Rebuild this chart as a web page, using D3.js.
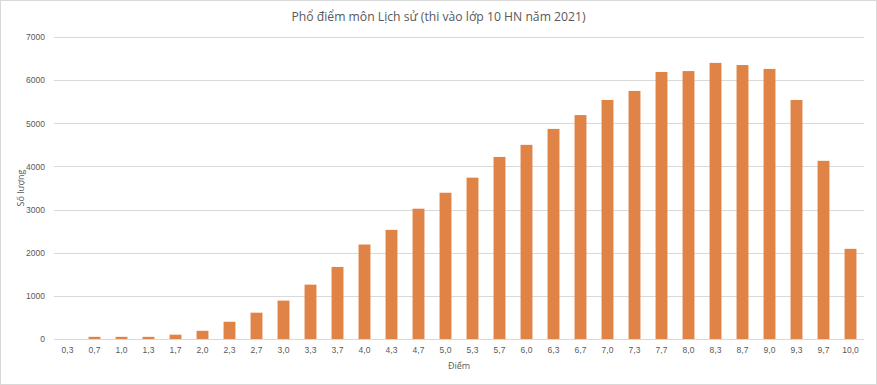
<!DOCTYPE html>
<html>
<head>
<meta charset="utf-8">
<script src="https://cdn.jsdelivr.net/npm/d3@7"></script>
<style>
  body { margin: 0; background: #fff; }
  svg { display: block; font-family: "Open Sans", "Noto Sans", sans-serif; }
  .tick text { fill: #595959; font-size: 8.5px; }
</style>
</head>
<body>
<svg id="chart"></svg>
<script>
// score categories (x axis)
const scores = ['0,3', '0,7', '1,0', '1,3', '1,7', '2,0', '2,3', '2,7', '3,0', '3,3',
  '3,7', '4,0', '4,3', '4,7', '5,0', '5,3', '5,7', '6,0', '6,3', '6,7',
  '7,0', '7,3', '7,7', '8,0', '8,3', '8,7', '9,0', '9,3', '9,7', '10,0'];

// number of students per score
const counts = [0, 50, 50, 50, 100, 190, 400, 610, 890, 1260,
  1670, 2190, 2530, 3020, 3390, 3740, 4220, 4500, 4870, 5190,
  5540, 5750, 6190, 6210, 6400, 6350, 6260, 5540, 4130, 2090];

const yTicks = [0, 1000, 2000, 3000, 4000, 5000, 6000, 7000];

const width = 877, height = 385;
const margin = { top: 37, right: 13, bottom: 46, left: 54 };
const innerW = width - margin.left - margin.right;
const innerH = height - margin.top - margin.bottom;

const svg = d3.select('#chart').attr('width', width).attr('height', height);

// chart area border
svg.append('rect')
  .attr('x', 0.5).attr('y', 0.5)
  .attr('width', width - 1).attr('height', height - 1)
  .attr('fill', '#fff').attr('stroke', '#d9d9d9');

const g = svg.append('g').attr('transform', `translate(${margin.left},${margin.top})`);

const x = d3.scaleBand().domain(scores).range([0, innerW]).paddingInner(0.56).paddingOuter(0.28);
const y = d3.scaleLinear().domain([0, 7000]).range([innerH, 0]);

// gridlines
g.append('g').selectAll('line')
  .data(yTicks)
  .join('line')
  .attr('x1', 0).attr('x2', innerW)
  .attr('y1', d => Math.round(y(d)) + 0.5).attr('y2', d => Math.round(y(d)) + 0.5)
  .attr('stroke', '#d9d9d9').attr('stroke-width', 1);

// y axis labels
const yAxis = g.append('g')
  .call(d3.axisLeft(y).tickValues(yTicks).tickSize(0).tickPadding(9).tickFormat(d3.format('d')));
yAxis.select('.domain').remove();

// bars
g.selectAll('.bar')
  .data(counts)
  .join('rect')
  .attr('class', 'bar')
  .attr('x', (d, i) => x(scores[i]))
  .attr('y', d => y(d))
  .attr('width', x.bandwidth())
  .attr('height', d => innerH - y(d))
  .attr('fill', '#e08346');

// x axis labels
const xAxis = g.append('g')
  .attr('transform', `translate(0,${innerH})`)
  .call(d3.axisBottom(x).tickSize(0).tickPadding(8));
xAxis.select('.domain').remove();

// title
svg.append('text')
  .attr('x', width / 2).attr('y', 21)
  .attr('text-anchor', 'middle')
  .attr('fill', '#595959')
  .style('font-size', '12.2px')
  .text('Phổ điểm môn Lịch sử (thi vào lớp 10 HN năm 2021)');

// axis titles
svg.append('text')
  .attr('x', margin.left + innerW / 2).attr('y', 369)
  .attr('text-anchor', 'middle')
  .attr('fill', '#595959')
  .style('font-size', '9px')
  .text('Điểm');

svg.append('text')
  .attr('transform', `translate(24,${margin.top + innerH / 2}) rotate(-90)`)
  .attr('text-anchor', 'middle')
  .attr('fill', '#595959')
  .style('font-size', '9px')
  .text('Số lượng');
</script>
</body>
</html>
